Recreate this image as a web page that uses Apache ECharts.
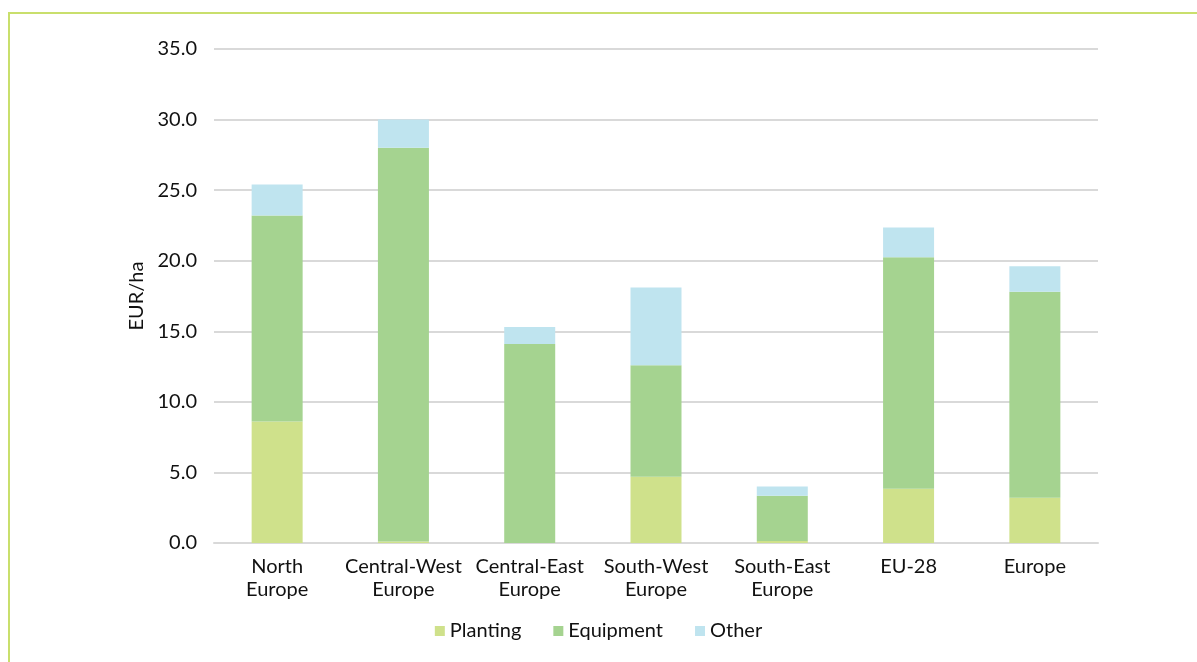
<!DOCTYPE html>
<html>
<head>
<meta charset="utf-8">
<script src="https://cdn.jsdelivr.net/npm/echarts@6/dist/echarts.min.js"></script>
<style>
html,body{margin:0;padding:0;background:#fff;}
#chart{width:1197px;height:662px;}
#frame{position:absolute;left:8px;top:12px;width:1300px;height:800px;border-left:2px solid #C9DF6C;border-top:2px solid #C9DF6C;pointer-events:none;}
</style>
</head>
<body>
<div id="chart"></div>
<div id="frame"></div>
<script>
const categories = ["North\nEurope", "Central-West\nEurope", "Central-East\nEurope", "South-West\nEurope", "South-East\nEurope", "EU-28", "Europe"];
const planting = [8.6, 0.1, 0.0, 4.7, 0.15, 3.85, 3.2];
const equipment = [14.6, 27.9, 14.1, 7.9, 3.2, 16.4, 14.6];
const other = [2.2, 2.0, 1.2, 5.5, 0.65, 2.1, 1.8];
const yTicks = {min: 0, max: 35, interval: 5};

const font = "Lato, 'Noto Sans', sans-serif";
const chart = echarts.init(document.getElementById('chart'));
chart.setOption({
  animation: false,
  textStyle: {fontFamily: font},
  grid: {left: 214, right: 99, top: 49, bottom: 119, containLabel: false},
  legend: {
    bottom: 16, left: 'center',
    itemWidth: 10, itemHeight: 10, itemGap: 32,
    icon: 'rect',
    textStyle: {fontSize: 20, color: '#111', fontFamily: font},
    data: ['Planting', 'Equipment', 'Other']
  },
  xAxis: {
    type: 'category', data: categories,
    axisLine: {lineStyle: {color: '#d9d9d9', width: 2}},
    axisTick: {show: false},
    axisLabel: {fontSize: 20, color: '#111', lineHeight: 23, margin: 12, interval: 0, fontFamily: font}
  },
  yAxis: {
    type: 'value', min: yTicks.min, max: yTicks.max, interval: yTicks.interval,
    name: 'EUR/ha', nameLocation: 'middle', nameGap: 67, nameRotate: 90,
    nameTextStyle: {fontSize: 20, color: '#111', fontFamily: font},
    axisLine: {show: false}, axisTick: {show: false},
    axisLabel: {fontSize: 20, color: '#111', margin: 17, formatter: v => v.toFixed(1), fontFamily: font},
    splitLine: {lineStyle: {color: '#d9d9d9', width: 2}}
  },
  series: [
    {name: 'Planting', type: 'bar', stack: 't', data: planting, barWidth: 51, itemStyle: {color: '#CFE18B'}},
    {name: 'Equipment', type: 'bar', stack: 't', data: equipment, barWidth: 51, itemStyle: {color: '#A5D390'}},
    {name: 'Other', type: 'bar', stack: 't', data: other, barWidth: 51, itemStyle: {color: '#BFE4EF'}}
  ]
});
</script>
</body>
</html>
